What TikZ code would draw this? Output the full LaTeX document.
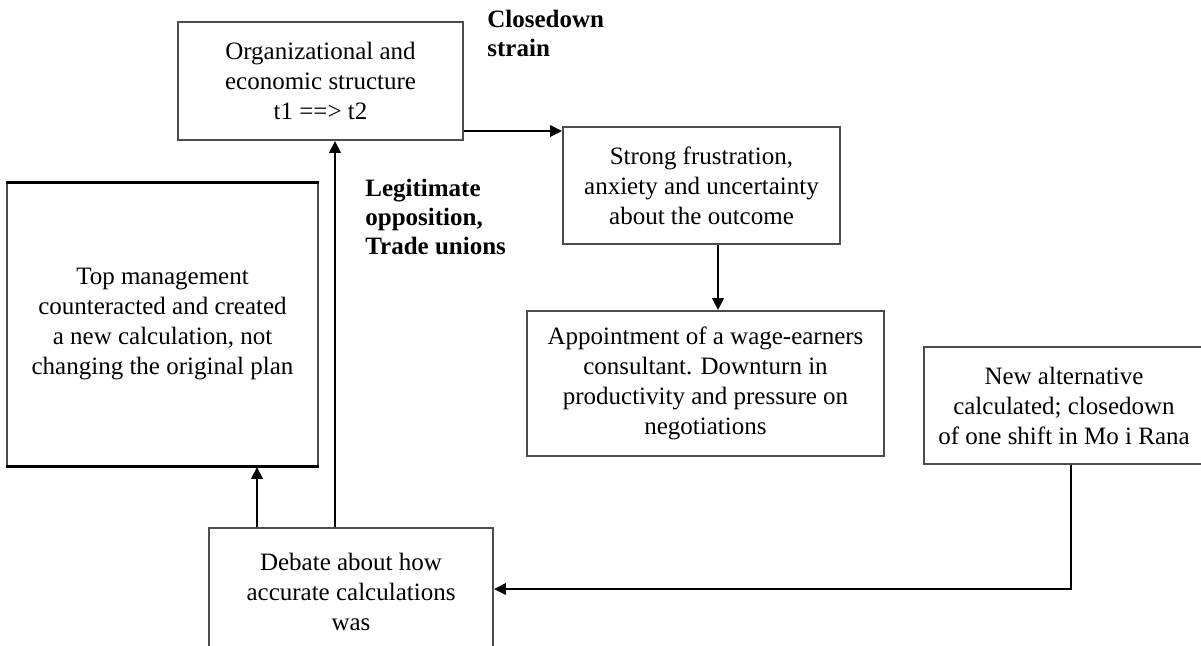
\documentclass[tikz,border=0pt]{standalone}
\usepackage{fontspec}
\setmainfont{Liberation Serif}
\usetikzlibrary{arrows.meta}
\begin{document}
\begin{tikzpicture}[x=0.5pt,y=-0.5pt,
  box/.style={draw=black!70, line width=0.8pt, inner sep=0pt, align=center,
    font=\fontsize{12.5}{15}\selectfont},
  lbl/.style={anchor=north west, inner sep=0pt, align=left,
    font=\fontsize{12.5}{14.5}\selectfont\bfseries},
  link/.style={line width=1.4pt, -{Triangle[length=6pt,width=5.5pt]}},
]
% page area
\clip (0,0) rectangle (1201,645);
\fill[white] (0,0) rectangle (1201,645);

% boxes
\node[box, minimum width=142.5pt, minimum height=59pt] (org) at (320.5,81)
  {Organizational and\\economic structure\\t1 ==> t2};
\node[box, minimum width=138.5pt, minimum height=58.5pt] (strong) at (701.5,185.5)
  {Strong frustration,\\anxiety and uncertainty\\about the outcome};
\node[box, minimum width=178.5pt, minimum height=72.5pt] (appoint) at (705.5,383.5)
  {Appointment of a wage-earners\\consultant. Downturn in\\productivity and pressure on\\negotiations};
\node[box, minimum width=155.5pt, minimum height=141.5pt] (tm) at (162.5,324.5)
  {Top management\\counteracted and created\\a new calculation, not\\changing the original plan};
\draw[line width=1.5pt] (tm.north west) -- (tm.north east);
\draw[line width=1.5pt] (tm.south west) -- (tm.south east);
\node[box, minimum width=140pt, minimum height=58.5pt] (newalt) at (1064,405.5)
  {New alternative\\calculated; closedown\\of one shift in Mo i Rana};
\node[box, minimum width=142pt, minimum height=64pt] (debate) at (351,592)
  {Debate about how\\accurate calculations\\was};

% labels
\node[lbl] (closedown) at (487,10) {Closedown\\strain};
\node[lbl] (legit) at (365,179) {Legitimate\\opposition,\\Trade unions};

% connector positions
\coordinate (yorg) at (0,131);
\coordinate (xtm) at (257,0);
\coordinate (xorg) at (335,0);
\coordinate (xstrong) at (718,0);
\coordinate (bend) at (1071,589);

% connectors
\draw[link] (org.east |- yorg) -- (strong.west |- yorg);
\draw[link] (strong.south -| xstrong) -- (appoint.north -| xstrong);
\draw[link] (debate.north -| xtm) -- (tm.south -| xtm);
\draw[link] (debate.north -| xorg) -- (org.south -| xorg);
\draw[link] (newalt.south -| bend) -- (bend) -- (debate.east |- bend);
\end{tikzpicture}
\end{document}
